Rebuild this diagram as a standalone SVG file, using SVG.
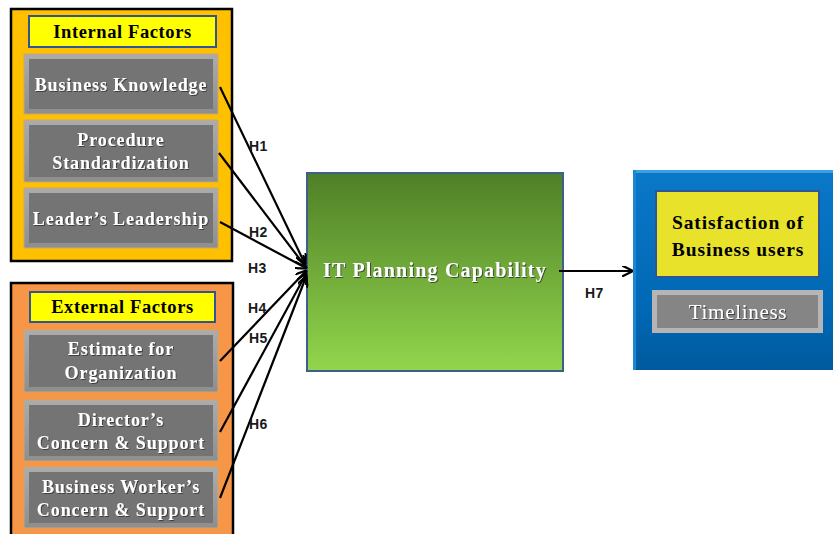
<svg xmlns="http://www.w3.org/2000/svg" width="833" height="534" viewBox="0 0 833 534">
  <defs>
    <linearGradient id="greenFill" x1="0" y1="0" x2="0" y2="1">
      <stop offset="0" stop-color="#4f7f27"/>
      <stop offset="1" stop-color="#92d64c"/>
    </linearGradient>
    <linearGradient id="blueShade" x1="0" y1="0" x2="0" y2="1">
      <stop offset="0" stop-color="#0a78c8"/>
      <stop offset="0.7" stop-color="#0068b4"/>
      <stop offset="1" stop-color="#005a9e"/>
    </linearGradient>
    <linearGradient id="bevelGrey" x1="0" y1="0" x2="0" y2="1">
      <stop offset="0" stop-color="#acacac"/>
      <stop offset="1" stop-color="#8e8e8e"/>
    </linearGradient>
    <marker id="arrow" viewBox="0 0 10 10" refX="9" refY="5" markerWidth="5" markerHeight="5" orient="auto">
      <path d="M0,0 L10,5 L0,10" fill="none" stroke="#000" stroke-width="2"/>
    </marker>
    <filter id="txtShadow" x="-5%" y="-20%" width="110%" height="140%">
      <feDropShadow dx="1" dy="1" stdDeviation="0.6" flood-color="#333" flood-opacity="0.8"/>
    </filter>
  </defs>
  <style>
    .group-internal { fill: #ffc000; stroke: #000; stroke-width: 2.5; }
    .group-external { fill: #f79646; stroke: #000; stroke-width: 2.5; }
    .title-box { fill: #ffff00; stroke: #2f5597; stroke-width: 2; }
    .title-text { font-family: "Liberation Serif", serif; font-weight: bold; font-size: 18.5px; letter-spacing: 0.6px; fill: #000; text-anchor: middle; }
    .item-outer { fill: url(#bevelGrey); stroke: #c9a874; stroke-width: 1; }
    .item-inner { fill: #747474; }
    .item-text { font-family: "Liberation Serif", serif; font-weight: bold; font-size: 18px; letter-spacing: 0.9px; fill: #fff; text-anchor: middle; filter: url(#txtShadow); }
    .link { stroke: #000; stroke-width: 2.2; fill: none; }
    .hlabel { font-family: "Liberation Sans", Arial, sans-serif; font-weight: bold; font-size: 14px; letter-spacing: 0.5px; fill: #1a1a1a; }
  </style>

  <!-- Internal factors -->
  <g id="internal-factors">
    <rect class="group-internal" x="11" y="9" width="221" height="252"/>
    <rect class="title-box" x="29" y="16" width="187" height="31"/>
    <text class="title-text" x="122.5" y="38">Internal Factors</text>
  </g>
  <g id="business-knowledge">
    <rect class="item-outer" x="24" y="54" width="194" height="60"/>
    <rect class="item-inner" x="29" y="59" width="184" height="50"/>
    <text class="item-text" x="121" y="91">Business Knowledge</text>
  </g>
  <g id="procedure-standardization">
    <rect class="item-outer" x="24" y="120" width="194" height="62"/>
    <rect class="item-inner" x="29" y="125" width="184" height="52"/>
    <text class="item-text" x="121" y="146">Procedure</text>
    <text class="item-text" x="121" y="169">Standardization</text>
  </g>
  <g id="leaders-leadership">
    <rect class="item-outer" x="24" y="188" width="194" height="60"/>
    <rect class="item-inner" x="29" y="193" width="184" height="50"/>
    <text class="item-text" x="121" y="225">Leader’s Leadership</text>
  </g>

  <!-- External factors -->
  <g id="external-factors">
    <rect class="group-external" x="11" y="283" width="222" height="260"/>
    <rect class="title-box" x="30" y="292" width="185" height="30"/>
    <text class="title-text" x="122.5" y="313">External Factors</text>
  </g>
  <g id="estimate-for-organization">
    <rect class="item-outer" x="24" y="330" width="194" height="62"/>
    <rect class="item-inner" x="29" y="335" width="184" height="52"/>
    <text class="item-text" x="121" y="355">Estimate for</text>
    <text class="item-text" x="121" y="379">Organization</text>
  </g>
  <g id="directors-concern">
    <rect class="item-outer" x="24" y="400" width="194" height="61"/>
    <rect class="item-inner" x="29" y="405" width="184" height="51"/>
    <text class="item-text" x="121" y="426">Director’s</text>
    <text class="item-text" x="121" y="449">Concern &amp; Support</text>
  </g>
  <g id="business-workers-concern">
    <rect class="item-outer" x="24" y="467" width="194" height="61"/>
    <rect class="item-inner" x="29" y="472" width="184" height="51"/>
    <text class="item-text" x="121" y="493">Business Worker’s</text>
    <text class="item-text" x="121" y="516">Concern &amp; Support</text>
  </g>

  <!-- IT planning capability -->
  <g id="it-planning-capability">
    <rect x="307" y="173" width="256" height="198" fill="url(#greenFill)" stroke="#3e5e8c" stroke-width="2"/>
    <text x="435" y="277" font-family="Liberation Serif, serif" font-weight="bold" font-size="20" letter-spacing="1.2" fill="#fff" text-anchor="middle" filter="url(#txtShadow)">IT Planning Capability</text>
  </g>

  <!-- Outcome -->
  <g id="outcome">
    <rect x="633" y="170" width="202" height="200" fill="url(#blueShade)"/>
    <rect x="633" y="170" width="202" height="3" fill="#3aa0e6"/>
    <rect x="633" y="170" width="3" height="200" fill="#1a86d4"/>
  </g>
  <g id="satisfaction">
    <rect x="656" y="191" width="163" height="86" fill="#e8e32a" stroke="#2f5597" stroke-width="2"/>
    <text x="738" y="229" font-family="Liberation Serif, serif" font-weight="bold" font-size="19.5" letter-spacing="0.9" fill="#000" text-anchor="middle">Satisfaction of</text>
    <text x="738" y="256" font-family="Liberation Serif, serif" font-weight="bold" font-size="19.5" letter-spacing="0.9" fill="#000" text-anchor="middle">Business users</text>
  </g>
  <g id="timeliness">
    <rect x="652" y="290" width="171" height="43" fill="#b5b5b5"/>
    <rect x="657" y="295" width="161" height="33" fill="#858585"/>
    <text x="738" y="319" font-family="Liberation Serif, serif" font-size="21" letter-spacing="0.7" fill="#fff" text-anchor="middle" filter="url(#txtShadow)">Timeliness</text>
  </g>

  <!-- Connectors -->
  <g id="connectors">
    <line class="link" x1="220" y1="87" x2="305" y2="264" marker-end="url(#arrow)"/>
    <line class="link" x1="219" y1="153" x2="305" y2="266" marker-end="url(#arrow)"/>
    <line class="link" x1="220" y1="222" x2="306" y2="268" marker-end="url(#arrow)"/>
    <line class="link" x1="220" y1="361" x2="306" y2="271" marker-end="url(#arrow)"/>
    <line class="link" x1="220" y1="432" x2="306" y2="274" marker-end="url(#arrow)"/>
    <line class="link" x1="220" y1="498" x2="306" y2="277" marker-end="url(#arrow)"/>
    <line class="link" x1="559" y1="271" x2="632" y2="271" marker-end="url(#arrow)"/>
    <text class="hlabel" x="249" y="151">H1</text>
    <text class="hlabel" x="249" y="237">H2</text>
    <text class="hlabel" x="248" y="273">H3</text>
    <text class="hlabel" x="248" y="313">H4</text>
    <text class="hlabel" x="249" y="343">H5</text>
    <text class="hlabel" x="249" y="429">H6</text>
    <text class="hlabel" x="585" y="298">H7</text>
  </g>
</svg>
